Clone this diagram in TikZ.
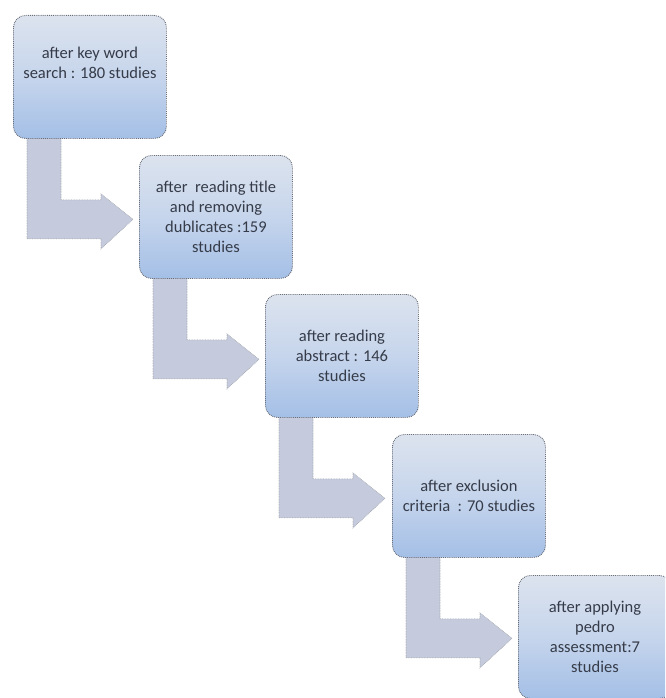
\documentclass[tikz,border=0pt]{standalone}
\usepackage{fontspec}
\setmainfont{Carlito}
\usetikzlibrary{calc}
\pgfdeclarelayer{bg}
\pgfsetlayers{bg,main}
\definecolor{boxtop}{HTML}{DCE3EE}
\definecolor{boxmid}{HTML}{C6D5EC}
\definecolor{boxbot}{HTML}{A4BFE6}
\definecolor{arrfill}{HTML}{C5CBDC}
\definecolor{txtcol}{HTML}{353B48}
\definecolor{edgecol}{HTML}{6A6E78}
\tikzset{
  stepbox/.style={rectangle, rounded corners=12pt, minimum width=153pt, minimum height=123pt,
    inner sep=0pt, anchor=north west, top color=boxtop, bottom color=boxbot, middle color=boxmid,
    draw=edgecol, densely dotted, line width=0.9pt, text=txtcol, align=center,
    font=\fontsize{16.5}{20}\selectfont},
  boxtext/.style={text=txtcol, align=center, font=\fontsize{16.5}{20}\selectfont, inner sep=0pt},
  bentarrow/.style={fill=arrfill, draw=edgecol!70, densely dotted, line width=0.6pt}
}
\newcommand{\bent}[1]{%
  \path[bentarrow]
    ($(#1.south west)+(14,-2)$) -- ($(#1.south west)+(14,100)$) -- ($(#1.south west)+(88,100)$)
    -- ($(#1.south west)+(88,110)$) -- ($(#1.south west)+(120,80.5)$) -- ($(#1.south west)+(88,55)$)
    -- ($(#1.south west)+(88,61)$) -- ($(#1.south west)+(48,61)$) -- ($(#1.south west)+(48,-2)$) -- cycle;}
\begin{document}
\begin{tikzpicture}[x=1pt,y=-1pt]
\useasboundingbox (0,0) rectangle (665,698);
\clip (0,0) rectangle (665,698);
\node[stepbox] (b1) at (13,15) {};
\node[boxtext] (t1) at ($(b1.center)+(0,-14)$) {after key word\\search : 180 studies};
\node[stepbox] (b2) at (139,155) {after\ \ reading title\\and removing\\dublicates :159\\studies};
\node[stepbox] (b3) at (265,294) {after reading\\abstract : 146\\studies};
\node[stepbox] (b4) at (392,434) {after exclusion\\criteria\ \ : 70 studies};
\node[stepbox] (b5) at (518,575) {after applying\\pedro\\assessment:7\\studies};
\begin{pgfonlayer}{bg}
\bent{b1}
\bent{b2}
\bent{b3}
\bent{b4}
\end{pgfonlayer}
\end{tikzpicture}
\end{document}
